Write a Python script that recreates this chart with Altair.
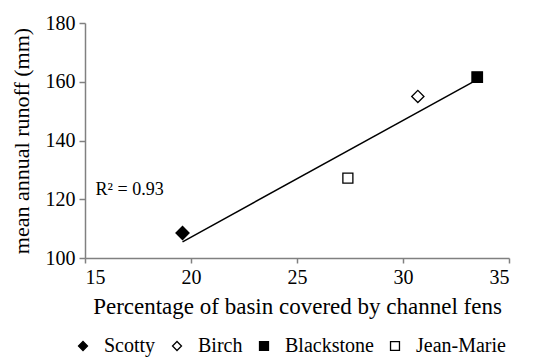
import altair as alt
import pandas as pd

basins = ["Scotty", "Birch", "Blackstone", "Jean-Marie"]
fen_pct = [19.6, 30.7, 33.5, 27.4]
runoff = [108.5, 155.0, 161.6, 127.2]
shapes = ["diamond", "diamond", "square", "square"]
fills = ["black", "white", "black", "white"]
strokes = ["black", "black", "black", "black"]
sizes = [170, 150, 110, 100]

label_x = [15.5]
label_y = [123.2]
label_txt = ["R² = 0.93"]

df = pd.DataFrame({"basin": basins, "pct": fen_pct, "runoff": runoff, "sz": sizes})
lab = pd.DataFrame({"x": label_x, "y": label_y, "t": label_txt})

FONT = "Liberation Serif"

xs = alt.Scale(domain=[15, 35], nice=False, zero=False)
ys = alt.Scale(domain=[100, 180], nice=False, zero=False)

xax = alt.Axis(values=[15, 20, 25, 30, 35], title="Percentage of basin covered by channel fens",
               grid=False, tickSize=5, labelPadding=4, titlePadding=8)
yax = alt.Axis(values=[100, 120, 140, 160, 180], title="mean annual runoff (mm)",
               grid=False, tickSize=6, labelPadding=4, titlePadding=12)

line = alt.Chart(df).mark_line(color="black", strokeWidth=1.5).transform_regression(
    "pct", "runoff"
).encode(
    x=alt.X("pct:Q", scale=xs, axis=xax),
    y=alt.Y("runoff:Q", scale=ys, axis=yax),
)

leg = alt.Legend(
    title=None, orient="none", direction="horizontal", legendX=-12, legendY=313,
    labelFont=FONT, labelFontSize=20, labelColor="black",
    symbolSize=80, labelOffset=11, columnPadding=11,
    symbolStrokeWidth=1.3,
)

pts = alt.Chart(df).mark_point(filled=False, strokeWidth=1.3, opacity=1).encode(
    x=alt.X("pct:Q", scale=xs),
    y=alt.Y("runoff:Q", scale=ys),
    shape=alt.Shape("basin:N", scale=alt.Scale(domain=basins, range=shapes), legend=leg),
    fill=alt.Fill("basin:N", scale=alt.Scale(domain=basins, range=fills), legend=leg),
    stroke=alt.Stroke("basin:N", scale=alt.Scale(domain=basins, range=strokes), legend=leg),
    size=alt.Size("sz:Q", scale=None, legend=None),
)

txt = alt.Chart(lab).mark_text(align="left", baseline="middle", font=FONT, fontSize=18, color="black").encode(
    x=alt.X("x:Q", scale=xs),
    y=alt.Y("y:Q", scale=ys),
    text="t:N",
)

chart = alt.layer(line, pts, txt).properties(
    width=424, height=235, padding={"left": 2, "top": 5, "right": 2, "bottom": 5}
).configure_view(stroke=None).configure_axis(
    domainColor="#808080", tickColor="#808080", labelFont=FONT, titleFont=FONT,
    labelFontSize=20, titleFontSize=22, labelColor="black", titleColor="black",
    titleFontWeight="normal", domainWidth=1.5, tickWidth=1.5
).configure_axisX(titleFontSize=23)

chart.save("out.html", embed_options={"renderer": "svg", "actions": False})
